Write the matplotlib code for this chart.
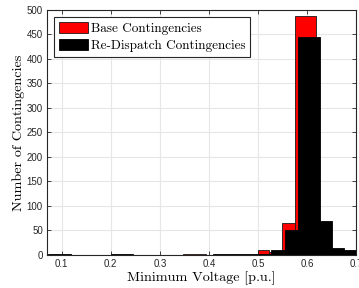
import numpy as np
import matplotlib
matplotlib.use('Agg')
import matplotlib.pyplot as plt

# bin edges / counts
base_edges = [0.075, 0.125, 0.175, 0.225, 0.275, 0.325, 0.348, 0.394, 0.45, 0.5, 0.522, 0.55, 0.575, 0.619, 0.65, 0.675, 0.7]
base_counts = [1, 0, 1, 1, 0, 0, 3, 1, 1, 10, 6, 65, 488, 40, 8, 5]

rd_edges = [0.072, 0.119, 0.152, 0.2, 0.245, 0.311, 0.36, 0.409, 0.458, 0.507, 0.526, 0.556, 0.582, 0.627, 0.652, 0.676, 0.700]
rd_counts = [2, 0, 1, 2, 1, 1, 1, 2, 2, 3, 11, 51, 444, 69, 14, 11]

xticks = [0.1, 0.2, 0.3, 0.4, 0.5, 0.6, 0.7]
yticks = list(range(0, 501, 50))

plt.rcParams['mathtext.fontset'] = 'cm'
plt.rcParams['axes.formatter.use_mathtext'] = True

fig = plt.figure(figsize=(3.59, 2.88), dpi=100)
ax = fig.add_axes([0.131, 0.1146, 0.8606, 0.8507])

ax.bar(base_edges[:-1], base_counts, width=np.diff(base_edges), align='edge',
       color='#ff0000', edgecolor='#1a1a1a', linewidth=0.6, label='Base Contingencies', zorder=2)
ax.bar(rd_edges[:-1], rd_counts, width=np.diff(rd_edges), align='edge',
       color='black', edgecolor='black', linewidth=0.6, label='Re-Dispatch Contingencies', zorder=3)

ax.set_xlim(0.07, 0.7)
ax.set_ylim(0, 500)
ax.set_xticks(xticks)
ax.set_yticks(yticks)
ax.set_xticklabels([f'{v:g}' for v in xticks], fontsize=7, family='Liberation Sans', color='#262626')
ax.set_yticklabels([str(v) for v in yticks], fontsize=7, family='Liberation Sans', color='#262626')
ax.tick_params(direction='in', length=3, width=0.6, top=True, right=True, colors='#262626', pad=3)
ax.grid(True, color='#e6e6e6', linewidth=0.8, zorder=0)
ax.set_axisbelow(True)
for s in ax.spines.values():
    s.set_color('#262626')
    s.set_linewidth(0.8)

ax.set_xlabel('Minimum Voltage [p.u.]', family='cmr10', fontsize=10.2, labelpad=2)
ax.set_ylabel('Number of Contingencies', family='cmr10', fontsize=10.2, labelpad=1)

leg = ax.legend(loc='upper left', prop={'family': 'cmr10', 'size': 9.5}, fancybox=False,
                edgecolor='#262626', framealpha=1, borderpad=0.35, handlelength=2.2,
                handleheight=0.9, handletextpad=0.25, labelspacing=0.3, borderaxespad=0.55)
leg.get_frame().set_linewidth(0.8)

fig.savefig('out.png', dpi=100)
